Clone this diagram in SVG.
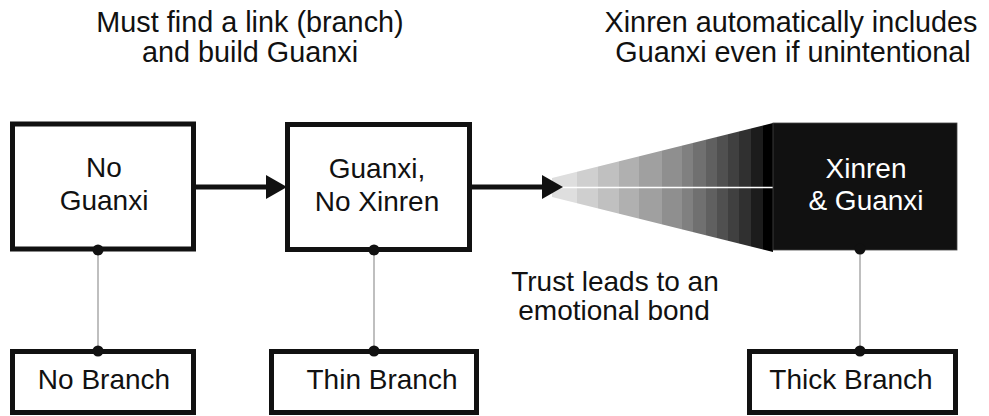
<svg xmlns="http://www.w3.org/2000/svg" width="989" height="416" viewBox="0 0 989 416">
<style>
text{font-family:"Liberation Sans",Arial,sans-serif;font-size:28px;fill:#111;text-anchor:middle}
.t{font-size:28.8px}
.box{fill:#fff;stroke:#111;stroke-width:5}
.dot{fill:#111}
.stem{stroke:#aaa;stroke-width:1.5;fill:none}
.arrow{stroke:#111;stroke-width:5;fill:none}
.w{fill:#fff}
</style>
<defs>
<marker id="ah" markerUnits="userSpaceOnUse" markerWidth="21" markerHeight="24" refX="0" refY="12" orient="auto">
<path d="M0,0 L21,12 L0,24 z" fill="#111"/>
</marker>
<clipPath id="funnel"><polygon points="552,178 773,123 773,252 552,197"/></clipPath>
</defs>
<g id="titles">
<text class="t" x="250" y="32">Must find a link (branch)</text>
<text class="t" x="250" y="62">and build Guanxi</text>
<text class="t" x="791" y="32">Xinren automatically includes</text>
<text class="t" x="793" y="62">Guanxi even if unintentional</text>
</g>
<g id="connectors">
<line class="stem" x1="98" y1="250" x2="98" y2="351"/>
<line class="stem" x1="374" y1="250" x2="374" y2="351"/>
<line class="stem" x1="860" y1="250" x2="860" y2="351"/>
<line class="arrow" x1="196" y1="187" x2="266" y2="187" marker-end="url(#ah)"/>
<g id="funnel-gradient" clip-path="url(#funnel)">
<rect x="552" y="120" width="25" height="140" fill="#dedede"/>
<rect x="577" y="120" width="21" height="140" fill="#cfcfcf"/>
<rect x="598" y="120" width="21" height="140" fill="#c0c0c0"/>
<rect x="619" y="120" width="20" height="140" fill="#b0b0b0"/>
<rect x="639" y="120" width="23" height="140" fill="#a0a0a0"/>
<rect x="662" y="120" width="20" height="140" fill="#8f8f8f"/>
<rect x="682" y="120" width="11" height="140" fill="#808080"/>
<rect x="693" y="120" width="13" height="140" fill="#707070"/>
<rect x="706" y="120" width="11" height="140" fill="#606060"/>
<rect x="717" y="120" width="11" height="140" fill="#505050"/>
<rect x="728" y="120" width="11" height="140" fill="#404040"/>
<rect x="739" y="120" width="12" height="140" fill="#303030"/>
<rect x="751" y="120" width="12" height="140" fill="#1c1c1c"/>
<rect x="763" y="120" width="10" height="140" fill="#000"/>
</g>
<line x1="560" y1="187.5" x2="773" y2="187.5" stroke="#fff" stroke-width="1.5"/>
<line class="arrow" x1="472" y1="187" x2="542" y2="187" marker-end="url(#ah)"/>
</g>
<g id="no-guanxi">
<rect class="box" x="12.5" y="124" width="181" height="125"/>
<text x="104" y="177">No</text>
<text x="104" y="210">Guanxi</text>
</g>
<g id="guanxi-no-xinren">
<rect class="box" x="287.5" y="124.5" width="182" height="125"/>
<text x="377" y="178">Guanxi,</text>
<text x="377" y="211">No Xinren</text>
</g>
<g id="xinren-guanxi">
<rect x="773" y="123" width="184" height="127" fill="#111" stroke="#444" stroke-width="0.8"/>
<text class="w" x="866" y="178">Xinren</text>
<text class="w" x="866" y="210">&amp; Guanxi</text>
</g>
<g id="note">
<text x="615" y="291">Trust leads to an</text>
<text x="614" y="320">emotional bond</text>
</g>
<g id="no-branch">
<rect class="box" x="12.5" y="351.5" width="181" height="61"/>
<text x="104" y="389">No Branch</text>
</g>
<g id="thin-branch">
<rect class="box" x="271.5" y="351.5" width="205" height="61"/>
<text x="382" y="389">Thin Branch</text>
</g>
<g id="thick-branch">
<rect class="box" x="749.5" y="351.5" width="206" height="61"/>
<text x="851" y="389">Thick Branch</text>
</g>
<g id="dots">
<circle class="dot" cx="98" cy="250" r="5.5"/>
<circle class="dot" cx="374" cy="250" r="5.5"/>
<circle class="dot" cx="860" cy="249" r="5.5"/>
<circle class="dot" cx="98" cy="351" r="5.5"/>
<circle class="dot" cx="374" cy="351" r="5.5"/>
<circle class="dot" cx="860" cy="351" r="5.5"/>
</g>
</svg>
